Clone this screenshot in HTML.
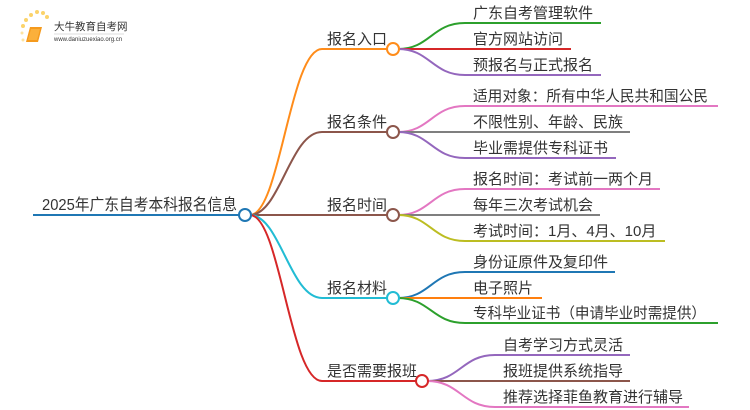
<!DOCTYPE html>
<html><head><meta charset="utf-8"><style>
html,body{margin:0;padding:0;background:#fff;}
svg{display:block;}
text{font-family:"Liberation Sans","Noto Sans CJK SC",sans-serif;fill:#333;}
</style></head><body>
<svg width="750" height="410" viewBox="0 0 750 410" xmlns="http://www.w3.org/2000/svg">
<g>
<circle cx="23" cy="26" r="2" fill="#fbd36a"/><circle cx="26" cy="20" r="2" fill="#fbd36a"/><circle cx="31" cy="15" r="2" fill="#fbd36a"/><circle cx="37" cy="12" r="2" fill="#fbd36a"/><circle cx="43" cy="13" r="2" fill="#fbd36a"/><circle cx="47" cy="17" r="2" fill="#fbd36a"/><circle cx="22" cy="33" r="1.5" fill="#fde3a0"/><circle cx="23" cy="40" r="1.5" fill="#fde3a0"/>
<path d="M30 27 L42 27 L38 42 L26 42 Z" fill="#f59a1d"/>
<path d="M31 29 L40 29 L37 40 L28 40 Z" fill="#fbb03b"/>
<text x="54" y="30" font-size="10.5" fill="#333">大牛教育自考网</text>
<line x1="54" y1="34" x2="124" y2="34" stroke="#bbb" stroke-width="0.6"/>
<text x="54" y="41" font-size="6" fill="#666">www.daniuzuexiao.org.cn</text>
</g>
<g fill="none" stroke-width="2">
<line x1="33" y1="215" x2="239" y2="215" stroke="#1f77b4"/>
<path d="M250,215 C280,215 290,49 322,49 L387,49" stroke="#ff8c1a"/>
<path d="M250,215 C280,215 290,132 322,132 L387,132" stroke="#8c564b"/>
<path d="M250,215 L387,215" stroke="#8c564b"/>
<path d="M250,215 C280,215 290,298 322,298 L387,298" stroke="#22bcd4"/>
<path d="M250,215 C280,215 290,381 322,381 L416,381" stroke="#d62728"/>
<path d="M398,49 C430,49 432,23 465,23 L601,23" stroke="#2ca02c"/>
<path d="M398,49 L571,49" stroke="#d62728"/>
<path d="M398,49 C430,49 432,75 465,75 L601,75" stroke="#9467bd"/>
<path d="M398,132 C430,132 432,106 465,106 L718,106" stroke="#e377c2"/>
<path d="M398,132 L630,132" stroke="#7f7f7f"/>
<path d="M398,132 C430,132 432,158 465,158 L616,158" stroke="#9467bd"/>
<path d="M398,215 C430,215 432,189 465,189 L660,189" stroke="#e377c2"/>
<path d="M398,215 L600,215" stroke="#7f7f7f"/>
<path d="M398,215 C430,215 432,241 465,241 L665,241" stroke="#bcbd22"/>
<path d="M398,298 C430,298 432,272 465,272 L615,272" stroke="#1f77b4"/>
<path d="M398,298 L542,298" stroke="#ff7f0e"/>
<path d="M398,298 C430,298 432,323 465,323 L718,323" stroke="#2ca02c"/>
<path d="M427,381 C460,381 462,355 495,355 L630,355" stroke="#9467bd"/>
<path d="M427,381 L630,381" stroke="#8c564b"/>
<path d="M427,381 C460,381 462,407 495,407 L689,407" stroke="#e377c2"/>
</g>
<g fill="#fff" stroke-width="2">
<circle cx="245" cy="215" r="6" stroke="#1f77b4"/>
<circle cx="393" cy="49" r="6" stroke="#ff8c1a"/>
<circle cx="393" cy="132" r="6" stroke="#8c564b"/>
<circle cx="393" cy="215" r="6" stroke="#8c564b"/>
<circle cx="393" cy="298" r="6" stroke="#22bcd4"/>
<circle cx="422" cy="381" r="6" stroke="#d62728"/>
</g>
<text x="42" y="210" font-size="16" textLength="195" lengthAdjust="spacingAndGlyphs">2025年广东自考本科报名信息</text>
<g font-size="15">
<text x="327" y="44">报名入口</text>
<text x="327" y="127">报名条件</text>
<text x="327" y="210">报名时间</text>
<text x="327" y="293">报名材料</text>
<text x="327" y="376">是否需要报班</text>
</g>
<g font-size="15">
<text x="473" y="18">广东自考管理软件</text>
<text x="473" y="44">官方网站访问</text>
<text x="473" y="70">预报名与正式报名</text>
<text x="473" y="101" textLength="235" lengthAdjust="spacingAndGlyphs">适用对象：所有中华人民共和国公民</text>
<text x="473" y="127">不限性别、年龄、民族</text>
<text x="473" y="153">毕业需提供专科证书</text>
<text x="473" y="184">报名时间：考试前一两个月</text>
<text x="473" y="210">每年三次考试机会</text>
<text x="473" y="236">考试时间：1月、4月、10月</text>
<text x="473" y="267">身份证原件及复印件</text>
<text x="473" y="293">电子照片</text>
<text x="473" y="318" textLength="233" lengthAdjust="spacingAndGlyphs">专科毕业证书（申请毕业时需提供）</text>
<text x="503" y="350">自考学习方式灵活</text>
<text x="503" y="376">报班提供系统指导</text>
<text x="503" y="402">推荐选择菲鱼教育进行辅导</text>
</g>
</svg>
</body></html>
